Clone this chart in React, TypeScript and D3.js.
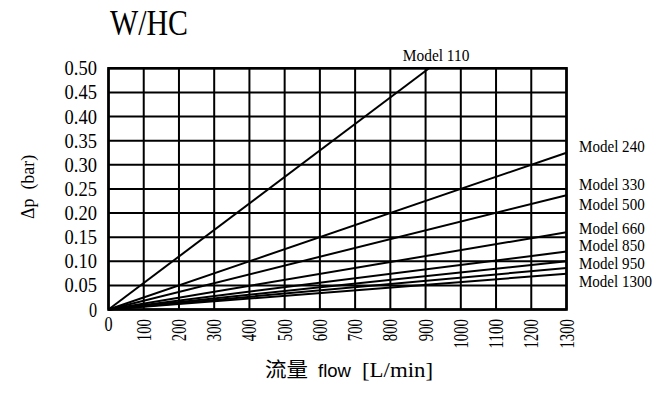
import React from "react";
import * as d3 from "d3";

// Pressure drop vs. flow, one straight line per filter model
const models = ["Model 110", "Model 240", "Model 330", "Model 500", "Model 660", "Model 850", "Model 950", "Model 1300"];
const endFlow = [910, 1300, 1300, 1300, 1300, 1300, 1300, 1300];
const endDp = [0.5, 0.325, 0.237, 0.16, 0.12, 0.1, 0.086, 0.074];

// Side labels are stacked at these Δp heights
const labelDp = [0, 0.338, 0.261, 0.218, 0.168, 0.133, 0.096, 0.058];

const xTicks = [0, 100, 200, 300, 400, 500, 600, 700, 800, 900, 1000, 1100, 1200, 1300];
const yTicks = [0, 0.05, 0.1, 0.15, 0.2, 0.25, 0.3, 0.35, 0.4, 0.45, 0.5];

const W = 655;
const H = 393;
const plot = { left: 108.5, right: 566.5, top: 68.3, bottom: 309.5 };
const serif = "'Liberation Serif', 'DejaVu Serif', serif";

export default function App() {
  const x = d3.scaleLinear().domain([0, 1300]).range([plot.left, plot.right]);
  const y = d3.scaleLinear().domain([0, 0.5]).range([plot.bottom, plot.top]);
  const line = d3
    .line<[number, number]>()
    .x((d) => x(d[0]))
    .y((d) => y(d[1]));

  const fmtY = (v: number) => (v === 0 ? "0" : v.toFixed(2));
  const charW = 8.1;

  return (
    <svg
      width={W}
      height={H}
      viewBox={`0 0 ${W} ${H}`}
      style={{ position: "absolute", left: 0, top: 0, background: "#fff" }}
    >
      {/* title */}
      <text x={110} y={35} fontFamily={serif} fontSize={35} textLength={78} lengthAdjust="spacingAndGlyphs">
        W/HC
      </text>

      {/* grid */}
      <g stroke="#000" strokeWidth={2}>
        {xTicks.map((t) => (
          <line key={"gx" + t} x1={x(t)} x2={x(t)} y1={plot.top} y2={plot.bottom} />
        ))}
        {yTicks.map((t) => (
          <line key={"gy" + t} x1={plot.left} x2={plot.right} y1={y(t)} y2={y(t)} />
        ))}
      </g>

      {/* model lines */}
      <g fill="none" stroke="#000" strokeWidth={2}>
        {models.map((m, i) => (
          <path
            key={m}
            d={line([
              [0, 0],
              [endFlow[i], endDp[i]],
            ]) as string}
          />
        ))}
      </g>

      {/* frame */}
      <rect
        x={plot.left}
        y={plot.top}
        width={plot.right - plot.left}
        height={plot.bottom - plot.top}
        fill="none"
        stroke="#000"
        strokeWidth={2.6}
      />

      {/* y tick labels */}
      <g fontFamily={serif} fontSize={20} fill="#000">
        {yTicks.map((t) => {
          const s = fmtY(t);
          return (
            <text
              key={"ly" + t}
              x={97}
              y={y(t)}
              dy="0.35em"
              textAnchor="end"
              textLength={s.length * charW}
              lengthAdjust="spacingAndGlyphs"
            >
              {s}
            </text>
          );
        })}
      </g>

      {/* x tick labels */}
      <g fontFamily={serif} fontSize={20} fill="#000">
        {xTicks.map((t) => {
          const s = String(t);
          if (t === 0) {
            return (
              <text key="lx0" x={x(0)} y={331} textAnchor="middle" textLength={charW} lengthAdjust="spacingAndGlyphs">
                {s}
              </text>
            );
          }
          return (
            <text
              key={"lx" + t}
              transform={`translate(${x(t)},319) rotate(-90)`}
              dy="0.35em"
              textAnchor="end"
              textLength={s.length * 7.4}
              lengthAdjust="spacingAndGlyphs"
            >
              {s}
            </text>
          );
        })}
      </g>

      {/* model labels */}
      <g fontFamily={serif} fontSize={17} fill="#000">
        {models.map((m, i) => {
          if (i === 0) {
            return (
              <text
                key={"lab" + m}
                x={x(endFlow[0]) + 7}
                y={61}
                textAnchor="middle"
                textLength={m.length * 7.4}
                lengthAdjust="spacingAndGlyphs"
              >
                {m}
              </text>
            );
          }
          return (
            <text
              key={"lab" + m}
              x={579}
              y={y(labelDp[i])}
              dy="0.35em"
              textLength={m.length * 7.3}
              lengthAdjust="spacingAndGlyphs"
            >
              {m}
            </text>
          );
        })}
      </g>

      {/* y axis title */}
      <text
        transform={`translate(27,${(plot.top + plot.bottom) / 2 - 2}) rotate(-90)`}
        textAnchor="middle"
        dy="0.35em"
        fontFamily={serif}
        fontSize={19}
        textLength={64}
        lengthAdjust="spacingAndGlyphs"
        xmlSpace="preserve"
      >
        Δp  (bar)
      </text>

      {/* x axis title */}
      <g fill="#000">
        <text x={265} y={377} fontFamily="'Noto Sans CJK SC', sans-serif" fontSize={20} textLength={43} lengthAdjust="spacingAndGlyphs">
          流量
        </text>
        <text x={318} y={377} fontFamily="'Liberation Sans', Arial, sans-serif" fontSize={19} textLength={33} lengthAdjust="spacingAndGlyphs">
          flow
        </text>
        <text x={362} y={377} fontFamily={serif} fontSize={20} textLength={71} lengthAdjust="spacingAndGlyphs">
          [L/min]
        </text>
      </g>
    </svg>
  );
}
